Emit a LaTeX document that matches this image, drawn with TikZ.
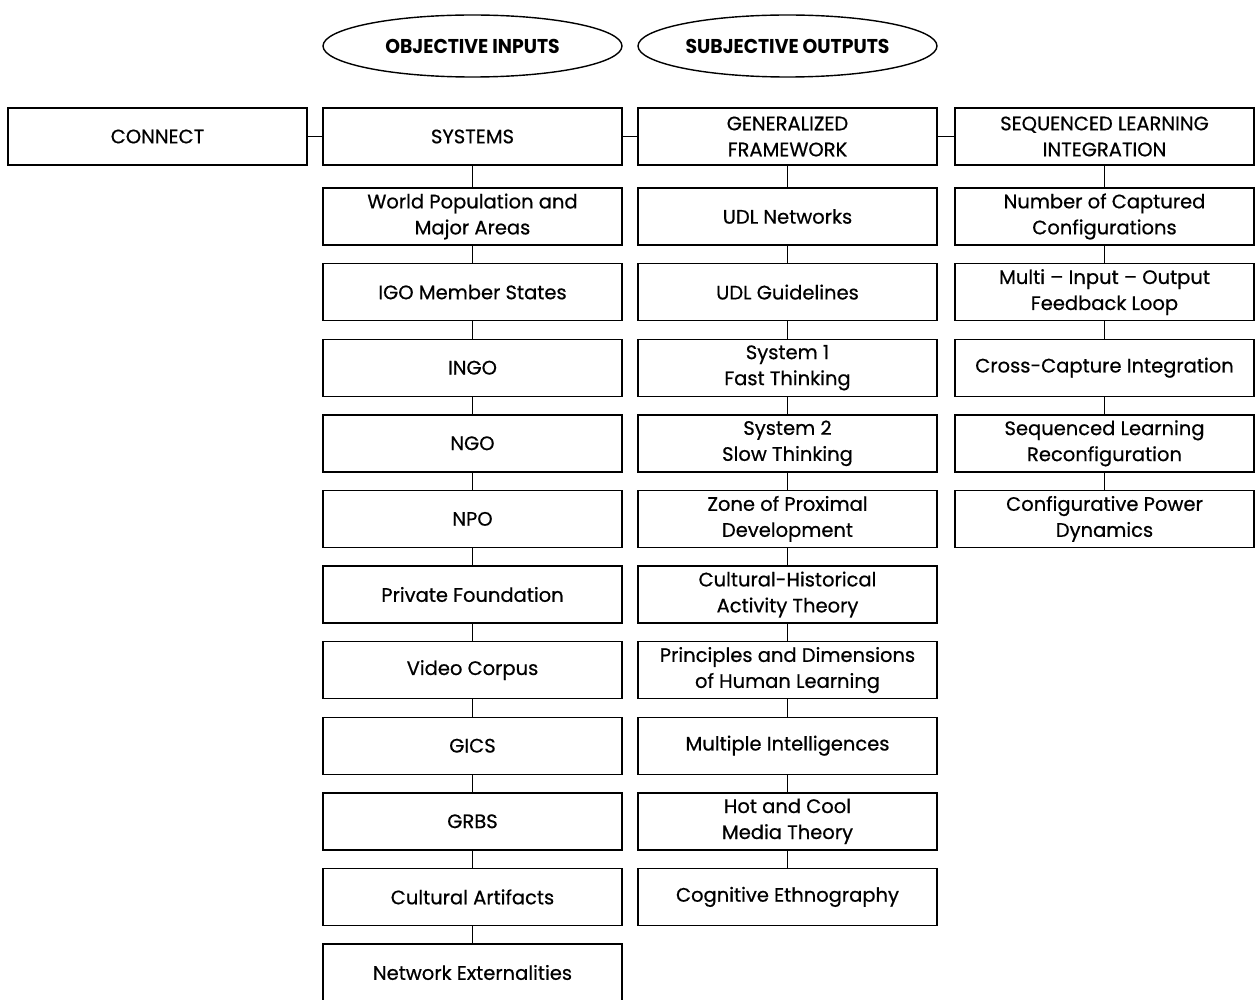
\documentclass[tikz,border=0pt]{standalone}
\usepackage{fontspec}
\setmainfont{Poppins}
\newfontfamily\boxfont{Poppins}[FakeBold=0.6,Ligatures=TeX]
\usetikzlibrary{shapes.geometric}
\begin{document}
\begin{tikzpicture}[x=1pt,y=-1pt,
  box/.style={draw,line width=1.4pt,minimum width=299pt,minimum height=57pt,
    inner sep=0pt,align=center,font=\boxfont\fontsize{19.5}{26}\selectfont},
  oval/.style={draw,ellipse,line width=1.4pt,minimum width=299pt,minimum height=62pt,
    inner sep=0pt,font=\bfseries\fontsize{20}{22}\selectfont},
  link/.style={line width=1.4pt}]
\useasboundingbox (0,0) rectangle (1255,1000);

% column headings
\node[oval] (obj) at (472.5,46) {\scalebox{0.94}[1]{OBJECTIVE INPUTS}};
\node[oval] (subj) at (787.5,46) {\scalebox{0.94}[1]{SUBJECTIVE OUTPUTS}};

% top row
\node[box] (connect) at (157.5,136.5) {CONNECT};
\node[box] (systems) at (472.5,136.5) {SYSTEMS};
\node[box] (gen) at (787.5,136.5) {GENERALIZED\\FRAMEWORK};
\node[box] (seq) at (1104.5,136.5) {SEQUENCED LEARNING\\INTEGRATION};

\draw[link] (connect) -- (systems);
\draw[link] (systems) -- (gen);
\draw[link] (gen) -- (seq);

% systems column
\foreach \t [count=\i] in {{World Population and\\Major Areas},{IGO Member States},{INGO},{NGO},{NPO},
  {Private Foundation},{Video Corpus},{GICS},{GRBS},{Cultural Artifacts},{Network Externalities}}
  \node[box] (s\i) at (472.5,{216.5+75.6*(\i-1)}) {\t};
\draw[link] (systems) -- (s1);
\foreach \i [evaluate=\i as \j using int(\i+1)] in {1,...,10}
  \draw[link] (s\i) -- (s\j);

% framework column
\foreach \t [count=\i] in {{UDL Networks},{UDL Guidelines},{System 1\\Fast Thinking},{System 2\\Slow Thinking},
  {Zone of Proximal\\Development},{Cultural-Historical\\Activity Theory},{Principles and Dimensions\\of Human Learning},
  {Multiple Intelligences},{Hot and Cool\\Media Theory},{Cognitive Ethnography}}
  \node[box] (g\i) at (787.5,{216.5+75.6*(\i-1)}) {\t};
\draw[link] (gen) -- (g1);
\foreach \i [evaluate=\i as \j using int(\i+1)] in {1,...,9}
  \draw[link] (g\i) -- (g\j);

% sequenced learning column
\foreach \t [count=\i] in {{Number of Captured\\Configurations},{Multi – Input – Output\\Feedback Loop},
  {Cross-Capture Integration},{Sequenced Learning\\Reconfiguration},{Configurative Power\\Dynamics}}
  \node[box] (q\i) at (1104.5,{216.5+75.6*(\i-1)}) {\t};
\draw[link] (seq) -- (q1);
\foreach \i [evaluate=\i as \j using int(\i+1)] in {1,...,4}
  \draw[link] (q\i) -- (q\j);
\end{tikzpicture}
\end{document}
